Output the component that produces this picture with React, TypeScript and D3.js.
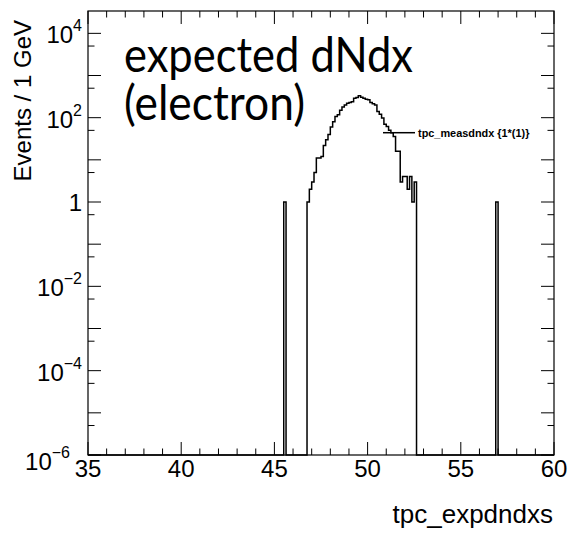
import React from "react";
import * as d3 from "d3";

// ---- data ----
const xDomain: [number, number] = [35, 60];
const binWidth = 0.125;
const mainStart = 46.75;
const mainCounts = [
  1, 2, 3, 5, 11, 11, 12, 22, 30, 40, 60, 80, 106, 117, 150, 180, 200, 220, 230, 240,
  290, 300, 330, 305, 290, 275, 265, 228, 215, 200, 140, 120, 98, 70, 62, 50, 44, 36,
  16, 16, 3, 4, 4, 2, 4, 1, 3,
];
const isolatedBins = [
  { x: 45.5, n: 1 },
  { x: 56.875, n: 1 },
];
const xTicks = [35, 40, 45, 50, 55, 60];
const yLabelExps = [-6, -4, -2, 0, 2, 4];
const yTitle = "Events / 1 GeV";
const xTitle = "tpc_expdndxs";
const legendLabel = "tpc_measdndx {1*(1)}";
const titleLines = ["expected dNdx", "(electron)"];

// ---- layout ----
const W = 572;
const H = 534;
const L = 88, R = 554, T = 11, B = 455;
const yTop = Math.pow(10, 4.53);

export default function App() {
  const x = d3.scaleLinear().domain(xDomain).range([L, R]);
  const y = d3.scaleLog().domain([1e-6, yTop]).range([B, T]);

  // full histogram
  const nBins = Math.round((xDomain[1] - xDomain[0]) / binWidth);
  const counts = new Array(nBins).fill(0);
  const idx = (v: number) => Math.round((v - xDomain[0]) / binWidth);
  mainCounts.forEach((c, i) => (counts[idx(mainStart) + i] = c));
  isolatedBins.forEach((b) => (counts[idx(b.x)] = b.n));

  const pts: [number, number][] = [];
  counts.forEach((c, i) => {
    const x0 = xDomain[0] + i * binWidth;
    const yy = c > 0 ? y(c) : B;
    pts.push([x(x0), yy], [x(x0 + binWidth), yy]);
  });
  const line = d3.line();
  const histPath = line(pts) || "";

  // ticks
  const xMinor = d3.range(35, 61, 1);
  const yDecades = d3.range(-6, 5);
  const yFives = d3.range(-6, 5).map((e) => 5 * Math.pow(10, e)).filter((v) => v < yTop);

  const fontAx = "'Liberation Sans', Arial, Helvetica, sans-serif";

  return (
    <svg width={W} height={H} style={{ position: "absolute", left: 0, top: 0 }}>
      <rect x={0} y={0} width={W} height={H} fill="#fff" />
      {/* ticks */}
      <g stroke="#000" strokeWidth={1}>
        {xMinor.map((v) => {
          const major = v % 5 === 0;
          const len = major ? 13 : 6.5;
          return (
            <g key={"xt" + v}>
              <line x1={x(v)} x2={x(v)} y1={B} y2={B - len} />
              <line x1={x(v)} x2={x(v)} y1={T} y2={T + len} />
            </g>
          );
        })}
        {yDecades.map((e) => {
          const yy = y(Math.pow(10, e));
          return (
            <g key={"yd" + e}>
              <line x1={L} x2={L + 13} y1={yy} y2={yy} />
              <line x1={R} x2={R - 13} y1={yy} y2={yy} />
            </g>
          );
        })}
        {yFives.map((v, i) => {
          const yy = y(v);
          return (
            <g key={"yf" + i}>
              <line x1={L} x2={L + 6.5} y1={yy} y2={yy} />
              <line x1={R} x2={R - 6.5} y1={yy} y2={yy} />
            </g>
          );
        })}
      </g>
      {/* histogram */}
      <path d={histPath} fill="none" stroke="#000" strokeWidth={1.5} />
      {/* frame */}
      <rect x={L} y={T} width={R - L} height={B - T} fill="none" stroke="#000" strokeWidth={1.2} />

      {/* x tick labels */}
      <g fontFamily={fontAx} fontSize={24} textAnchor="middle" fill="#000">
        {xTicks.map((v) => (
          <text key={"xl" + v} x={x(v)} y={477}>
            {v}
          </text>
        ))}
      </g>
      {/* y tick labels */}
      <g fontFamily={fontAx} fill="#000">
        {yLabelExps.map((e) => {
          const yy = y(Math.pow(10, e));
          if (e === 0) {
            return (
              <text key="y0" x={82} y={yy + 8.5} fontSize={24} textAnchor="end">
                1
              </text>
            );
          }
          const last = e === -6;
          const right = last ? 70 : 82;
          const base = last ? yy + 15 : yy + 10;
          const expStr = e < 0 ? "\u2212" + Math.abs(e) : String(e);
          return (
            <text key={"ye" + e} x={right} y={base} textAnchor="end" fontSize={24}>
              10
              <tspan fontSize={16} dy={-12}>
                {expStr}
              </tspan>
            </text>
          );
        })}
      </g>
      {/* axis titles */}
      <text
        fontFamily={fontAx}
        fontSize={24}
        textAnchor="end"
        transform={`translate(31,20) rotate(-90)`}
        fill="#000"
      >
        {yTitle}
      </text>
      <text fontFamily={fontAx} fontSize={26} textAnchor="end" x={553} y={523} fill="#000">
        {xTitle}
      </text>

      {/* legend entry */}
      <line x1={383} x2={415} y1={132.7} y2={132.7} stroke="#000" strokeWidth={1.5} />
      <text fontFamily={fontAx} fontWeight="bold" fontSize={10.9} x={418} y={136.5} fill="#000">
        {legendLabel}
      </text>

      {/* big title */}
      <g fontFamily="Lato, 'Open Sans', sans-serif" fontSize={48} fill="#000">
        <text x={124} y={72} textLength={289} lengthAdjust="spacingAndGlyphs">
          {titleLines[0]}
        </text>
        <text x={124} y={120} textLength={181} lengthAdjust="spacingAndGlyphs">
          {titleLines[1]}
        </text>
      </g>
    </svg>
  );
}
